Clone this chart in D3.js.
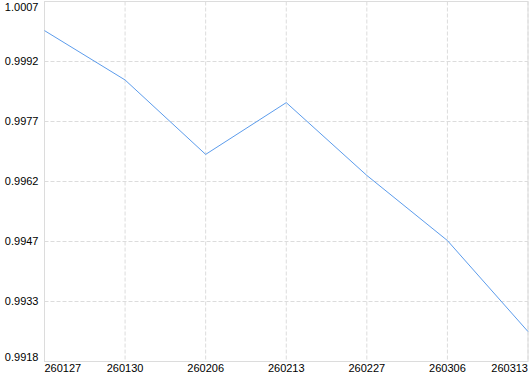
<!DOCTYPE html>
<html>
<head>
<meta charset="utf-8">
<script src="https://cdn.jsdelivr.net/npm/d3@7"></script>
<style>
  body { margin: 0; background: #fff; }
  text { font-family: "Liberation Sans", Arial, sans-serif; font-size: 11px; fill: #000; }
</style>
</head>
<body>
<div id="chart"></div>
<script>
// Data
const dates = ['260127', '260130', '260206', '260213', '260227', '260306', '260313'];
const values = [0.99998, 0.99876, 0.99692, 0.99820, 0.99640, 0.99479, 0.99254];
const yTickLabels = ['1.0007', '0.9992', '0.9977', '0.9962', '0.9947', '0.9933', '0.9918'];
const yMin = 0.9918, yMax = 1.0007;

// Layout
const W = 530, H = 374;
const margin = { top: 1.5, right: 2, bottom: 12.5, left: 44.5 };
const width = W - margin.left - margin.right;
const height = H - margin.top - margin.bottom;

const svg = d3.select('#chart')
  .append('svg')
  .attr('width', W)
  .attr('height', H);

const g = svg.append('g')
  .attr('transform', `translate(${margin.left}, ${margin.top})`);

// Scales
const xScale = d3.scalePoint().domain(dates).range([0, width]);
const yScale = d3.scaleLinear().domain([yMin, yMax]).range([height, 0]);
const yTicks = yTickLabels.map((_, i) => yMax - i * (yMax - yMin) / (yTickLabels.length - 1));

// Grid
g.selectAll('.hgrid')
  .data(yTicks)
  .enter().append('line')
  .attr('x1', 0).attr('x2', width)
  .attr('y1', d => yScale(d)).attr('y2', d => yScale(d))
  .attr('stroke', '#dcdcdc')
  .attr('stroke-dasharray', '4,2');

g.selectAll('.vgrid')
  .data(dates)
  .enter().append('line')
  .attr('x1', d => xScale(d)).attr('x2', d => xScale(d))
  .attr('y1', 0).attr('y2', height)
  .attr('stroke', '#dcdcdc')
  .attr('stroke-dasharray', '4,2');

// Plot frame
g.append('rect')
  .attr('width', width)
  .attr('height', height)
  .attr('fill', 'none')
  .attr('stroke', '#dcdcdc');

// Y labels
g.selectAll('.ylab')
  .data(yTicks)
  .enter().append('text')
  .attr('x', -6)
  .attr('y', d => yScale(d))
  .attr('text-anchor', 'end')
  .attr('dy', (d, i) => i === 0 ? '0.9em' : (i === yTicks.length - 1 ? '-0.05em' : '0.35em'))
  .text((d, i) => yTickLabels[i]);

// X labels
g.selectAll('.xlab')
  .data(dates)
  .enter().append('text')
  .attr('x', d => xScale(d))
  .attr('y', height + 10.5)
  .attr('text-anchor', (d, i) => i === 0 ? 'start' : (i === dates.length - 1 ? 'end' : 'middle'))
  .text(d => d);

// Line
const line = d3.line()
  .x((d, i) => xScale(dates[i]))
  .y(d => yScale(d));

g.append('path')
  .datum(values)
  .attr('fill', 'none')
  .attr('stroke', '#5c9cec')
  .attr('stroke-width', 1)
  .attr('d', line);
</script>
</body>
</html>
